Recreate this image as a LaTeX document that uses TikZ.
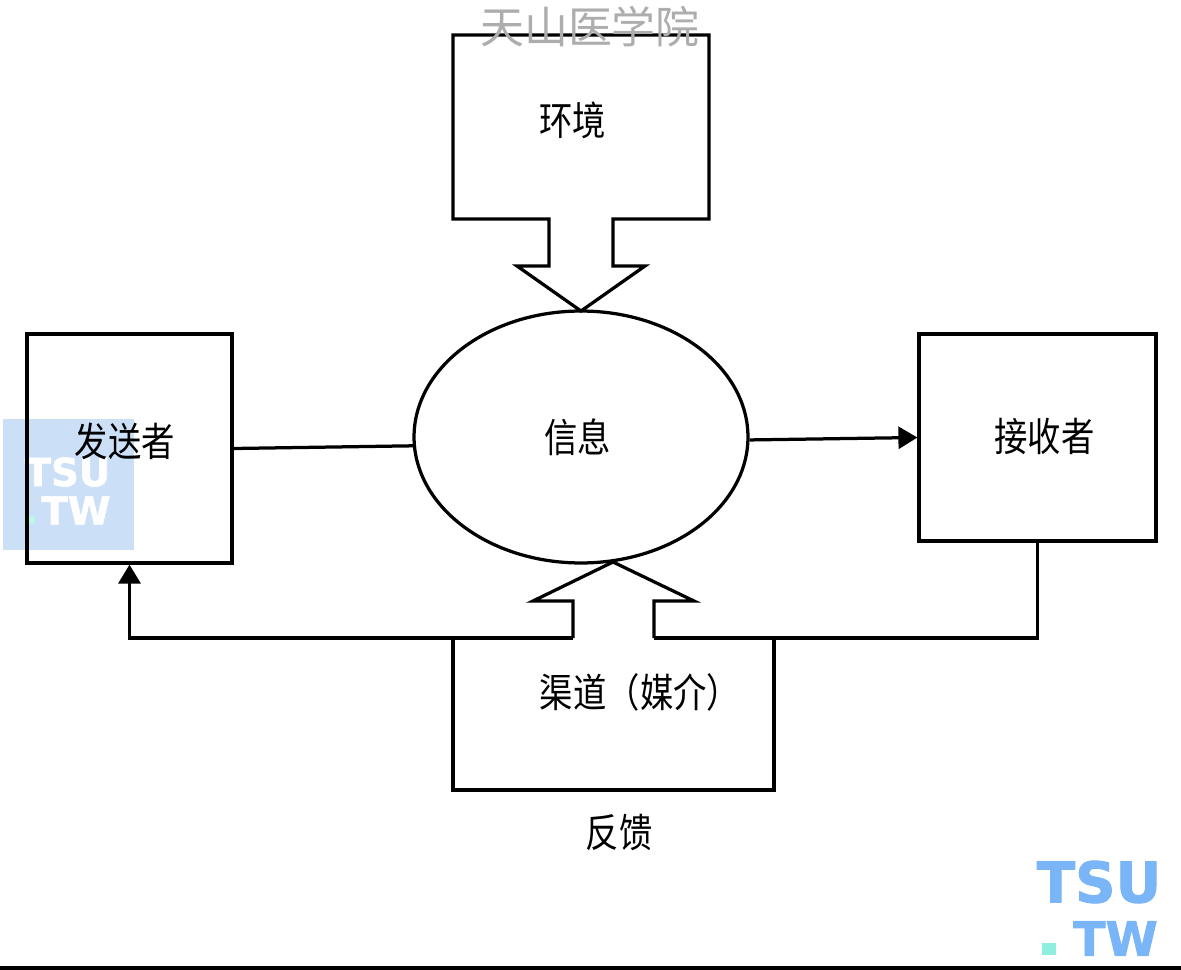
\documentclass[tikz,border=0pt]{standalone}
\usepackage{fontspec}
\usetikzlibrary{arrows.meta,positioning,shapes.geometric}
\newfontfamily\cjk{Noto Sans CJK SC}
\newfontfamily\cjktall[FakeStretch=0.84]{Noto Sans CJK SC}
\newfontfamily\markfont[BoldFeatures={FakeBold=1.6}]{DejaVu Sans}
\definecolor{wmblue}{HTML}{7AB5F8}
\definecolor{wmpale}{HTML}{CBDFF7}
\definecolor{wmmint}{HTML}{8EEEE0}
\begin{document}
\begin{tikzpicture}[x=0.02cm,y=-0.02cm,line width=0.065cm,line join=miter,
    boxnode/.style={draw,rectangle,inner sep=0pt},
    lab/.style={inner sep=0pt,font=\cjktall\fontsize{22.6}{24}\selectfont},
    tip/.style={-{Triangle[length=0.38cm,width=0.44cm]}},
    bigmark/.style={inner sep=0pt,text=wmblue,font=\markfont\bfseries\fontsize{32}{32}\selectfont},
    tailmark/.style={inner sep=0pt,text=wmblue,font=\markfont\bfseries\fontsize{27}{27}\selectfont},
    smallmark/.style={inner sep=0pt,text=white,font=\markfont\bfseries\fontsize{22}{22}\selectfont}]
  \useasboundingbox (0,0) rectangle (1181,970);
  % left watermark
  \fill[wmpale] (3,419) rectangle (134,550);
  \node[smallmark] (markA) at (67.5,472) {TSU};
  \node[smallmark] (markB) at (76,510.5) {TW};
  \fill[wmmint!60!white] (27,516) rectangle (35,524);
  % Boxes and the ellipse
  \node[boxnode,minimum width=4.1cm,minimum height=4.58cm] (sender) at (129.5,448.5) {};
  \node[boxnode,minimum width=4.74cm,minimum height=4.14cm] (receiver) at (1037.5,437.5) {};
  \node[draw,ellipse,inner sep=0pt,minimum width=6.68cm,minimum height=5.04cm] (msg) at (581,437) {};
  % environment box with its block arrow
  \draw (453,35) -- (709,35) -- (709,219) -- (613,219) -- (613,266) -- (645,266)
    -- (581,311) -- (517,266) -- (549,266) -- (549,219) -- (453,219) -- cycle;
  % channel box and the block arrow on top of it
  \draw (453,638) -- (453,790) -- (774,790) -- (774,638);
  \coordinate (feedL) at (573,638);
  \coordinate (feedR) at (654,638);
  \draw (feedL) -- (573,601) -- (533,601) -- (613,562) -- (694,601) -- (654,601) -- (feedR);
  % Connectors
  \draw (sender.east) -- (msg.183);
  \draw[tip] (msg.359) -- (receiver.west);
  \draw (receiver.south) -- (1037.5,638) -- (feedR);
  \draw[tip] (feedL) -- (129.5,638) -- (sender.south);
  % Labels
  \node[lab] (envlab) at (572.5,120) {环境};
  \node[lab] (msglab) at (577.5,437) {信息};
  \node[lab] (sendlab) at (125,441) {发送者};
  \node[lab] (recvlab) at (1044.5,436) {接收者};
  \node[lab] (chanlab) at (640,692) {渠道（媒介）};
  \node[lab] (backlab) at (619,832) {反馈};
  % top watermark
  \node[inner sep=0pt,text=black!32,font=\cjk\fontsize{25}{26}\selectfont] (school) at (590,27) {天山医学院};
  % corner watermark
  \node[bigmark] (cornerA) at (1099,882) {TSU};
  \node[tailmark] (cornerB) at (1115.5,938.5) {TW};
  \fill[wmmint] (1042,943) rectangle (1056,955);
  % bottom rule
  \fill[black] (0,966) rectangle (1181,970);
\end{tikzpicture}
\end{document}
